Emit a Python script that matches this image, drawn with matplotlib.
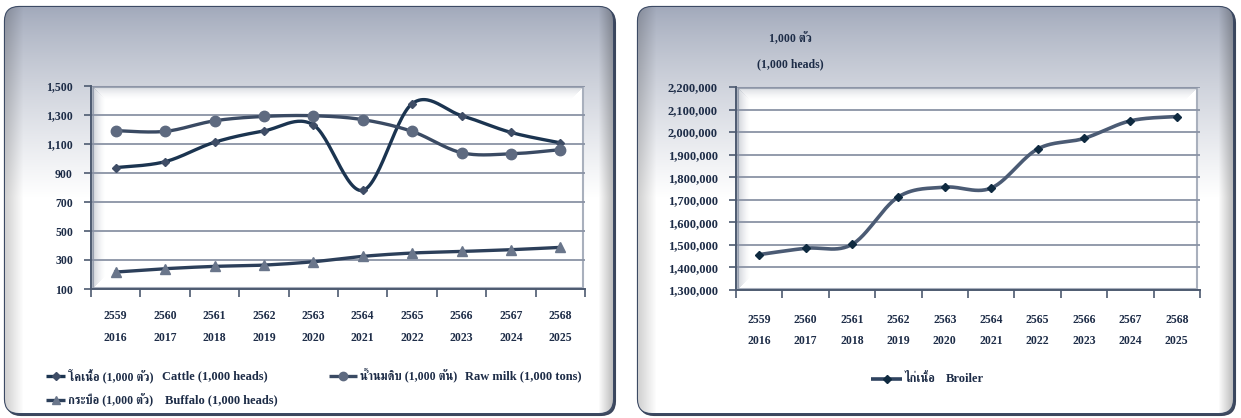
import numpy as np
import matplotlib
matplotlib.use("Agg")
import matplotlib.pyplot as plt
from matplotlib import font_manager, ft2font, transforms
from matplotlib.patches import FancyBboxPatch, Rectangle

# ---------------- data ----------------
years_be = ["2559", "2560", "2561", "2562", "2563", "2564", "2565", "2566", "2567", "2568"]
years_ad = ["2016", "2017", "2018", "2019", "2020", "2021", "2022", "2023", "2024", "2025"]
cattle = [937, 978, 1112, 1190, 1232, 780, 1378, 1296, 1180, 1108]
raw_milk = [1192, 1187, 1260, 1290, 1295, 1268, 1187, 1040, 1032, 1061]
buffalo = [217, 240, 256, 265, 288, 325, 348, 359, 371, 387]
broiler = [1457000, 1485000, 1502000, 1713000, 1756000, 1752000, 1925000, 1972000, 2050000, 2069000]

left_yticks = [100, 300, 500, 700, 900, 1100, 1300, 1500]
right_yticks = [1300000, 1400000, 1500000, 1600000, 1700000, 1800000, 1900000, 2000000, 2100000, 2200000]

th_cattle, en_cattle = "โคเนื้อ (1,000 ตัว)", "Cattle (1,000 heads)"
th_milk, en_milk = "น้ำนมดิบ (1,000 ตัน)", "Raw milk (1,000 tons)"
th_buffalo, en_buffalo = "กระบือ (1,000 ตัว)", "Buffalo (1,000 heads)"
th_broiler, en_broiler = "ไก่เนื้อ", "Broiler"
unit_th = "1,000 ตัว"
unit_en = "(1,000 heads)"

# ---------------- fonts ----------------
thai = None
for f in font_manager.fontManager.ttflist:
    try:
        cm = ft2font.FT2Font(f.fname).get_charmap()
        if 0x0E01 in cm and 0x0E49 in cm and 0x0E4D in cm:
            thai = f.name
            if "Serif" in f.name or "serif" in f.name:
                break
    except Exception:
        pass
FAM = ["Liberation Serif"] + ([thai] if thai else []) + ["DejaVu Sans"]
plt.rcParams["font.family"] = FAM
plt.rcParams["font.weight"] = "bold"

TXT = "#1d2c47"
W, H = 1241, 418
fig = plt.figure(figsize=(W / 100, H / 100), dpi=100)

bg = fig.add_axes([0, 0, 1, 1])
bg.set_xlim(0, W)
bg.set_ylim(H, 0)
bg.axis("off")


def panel(x0, y0, x1, y1):
    sh = FancyBboxPatch((x0 + 2, y0 + 2), x1 - x0, y1 - y0,
                        boxstyle="round,pad=0,rounding_size=14",
                        fc="#4a5568", ec="#3b465c", lw=1.5, zorder=1)
    bg.add_patch(sh)
    p = FancyBboxPatch((x0, y0), x1 - x0, y1 - y0,
                       boxstyle="round,pad=0,rounding_size=14",
                       fc="white", ec="#3c4a64", lw=1.6, zorder=2)
    bg.add_patch(p)
    hh, ww = int(y1 - y0), int(x1 - x0)
    yy = np.linspace(0, 1, hh)[:, None]
    xx = np.linspace(0, 1, ww)[None, :]
    top = np.array([0.63, 0.66, 0.73])
    t = np.clip((yy * (y1 - y0)) / 190.0, 0, 1) ** 0.8
    img = top[None, None, :] * (1 - t[..., None]) + t[..., None]
    img = np.broadcast_to(img, (hh, ww, 3)).copy()
    edge = np.clip(1 - (xx * ww) / 18.0, 0, 1) * 0.18 + np.clip(1 - ((1 - xx) * ww) / 14.0, 0, 1) * 0.25
    img = img * (1 - edge[..., None])
    im = bg.imshow(img, extent=(x0, x1, y1, y0), aspect="auto", zorder=3, interpolation="bilinear")
    im.set_clip_path(p)


def inner(x0, y0, x1, y1):
    bg.add_patch(Rectangle((x0, y0), x1 - x0, y1 - y0, fc="white", ec="#a9b0bd", lw=1.5, zorder=4))
    n = 12
    for i in range(n):
        a = 0.35 * (1 - i / n) ** 1.5
        bg.add_patch(Rectangle((x0 + i, y0 + i), 1, y1 - y0 - 2 * i, fc="#7d8799", ec="none", alpha=a, zorder=5))
        bg.add_patch(Rectangle((x0 + i, y0 + i), x1 - x0 - 2 * i, 1, fc="#7d8799", ec="none", alpha=a * 0.8, zorder=5))


panel(5, 7, 613, 413)
panel(638, 7, 1233, 413)
inner(93, 87, 583, 288)
inner(738, 88, 1197, 289)


def smooth(y, n=30):
    y = np.asarray(y, float)
    x = np.arange(len(y), dtype=float)
    px = np.concatenate([[x[0]], x, [x[-1]]])
    py = np.concatenate([[y[0]], y, [y[-1]]])
    xs, ys = [], []
    t = np.linspace(0, 1, n)
    for i in range(len(y) - 1):
        p0 = np.array([px[i], py[i]]); p1 = np.array([px[i + 1], py[i + 1]])
        p2 = np.array([px[i + 2], py[i + 2]]); p3 = np.array([px[i + 3], py[i + 3]])
        c1 = p1 + (p2 - p0) / 6.0
        c2 = p2 - (p3 - p1) / 6.0
        b = ((1 - t) ** 3)[:, None] * p1 + (3 * (1 - t) ** 2 * t)[:, None] * c1 + \
            (3 * (1 - t) * t ** 2)[:, None] * c2 + (t ** 3)[:, None] * p2
        xs.append(b[:, 0]); ys.append(b[:, 1])
    return np.concatenate(xs), np.concatenate(ys)


def px2fig(x0, y0, x1, y1):
    return [x0 / W, 1 - y1 / H, (x1 - x0) / W, (y1 - y0) / H]


def style_axes(ax, yticks, ylim, ysize, xpad):
    ax.set_facecolor("none")
    ax.set_xlim(-0.5, 9.5)
    ax.set_ylim(*ylim)
    ax.set_yticks(yticks)
    ax.set_yticklabels([f"{v:,}" for v in yticks], fontsize=ysize, color=TXT, fontweight="bold")
    ax.set_xticks(range(10))
    ax.set_xticklabels(years_be, fontsize=8.5, color=TXT, fontweight="bold")
    ax.set_xticks(np.arange(-0.5, 10, 1), minor=True)
    ax.tick_params(axis="x", which="major", length=0, pad=xpad)
    ax.tick_params(axis="x", which="minor", length=6, width=1.2, color="#4d5a70", direction="out")
    ax.tick_params(axis="y", length=5, width=1.2, color="#4d5a70", direction="out", pad=8)
    ax.grid(axis="y", color="#8a93a5", lw=1.3, zorder=0)
    for s in ["top", "right"]:
        ax.spines[s].set_visible(False)
    for s in ["left", "bottom"]:
        ax.spines[s].set_color("#4d5a70")
        ax.spines[s].set_linewidth(1.4)
    return transforms.blended_transform_factory(ax.transData, bg.transData)


x = np.arange(10)
c_cattle, c_milk, c_buf = "#1b3450", "#3a4a63", "#2c3f5a"
m_cattle, m_milk, m_buf = "#3f4d66", "#5e6a80", "#6a768b"

# ---------------- left chart ----------------
axL = fig.add_axes(px2fig(91, 86, 585, 289))
trL = style_axes(axL, left_yticks, (100, 1500), 8.5, 15)
for i, s in enumerate(years_ad):
    axL.text(i, 338, s, transform=trL, ha="center", va="center", fontsize=8.5, color=TXT, fontweight="bold")

sx, sy = smooth(cattle); axL.plot(sx, sy, color=c_cattle, lw=2.4, zorder=5)
axL.plot(x, cattle, ls="none", marker="D", ms=4.5, color=m_cattle, zorder=6)
sx, sy = smooth(raw_milk); axL.plot(sx, sy, color=c_milk, lw=2.4, zorder=5)
axL.plot(x, raw_milk, ls="none", marker="o", ms=7.5, color=m_milk, zorder=6)
sx, sy = smooth(buffalo); axL.plot(sx, sy, color=c_buf, lw=2.4, zorder=5)
axL.plot(x, buffalo, ls="none", marker="^", ms=7, color=m_buf, zorder=6)

# ---------------- right chart ----------------
axR = fig.add_axes(px2fig(736, 87, 1200, 290))
trR = style_axes(axR, right_yticks, (1300000, 2200000), 9, 17)
for i, s in enumerate(years_ad):
    axR.text(i, 341, s, transform=trR, ha="center", va="center", fontsize=8.5, color=TXT, fontweight="bold")
c_br, m_br = "#4b5b74", "#0f2a40"
sx, sy = smooth(broiler); axR.plot(sx, sy, color=c_br, lw=2.6, zorder=5)
axR.plot(x, broiler, ls="none", marker="D", ms=4.5, color=m_br, zorder=6)

bg.text(790, 39, unit_th, ha="center", va="center", fontsize=8.5, color=TXT, fontweight="bold", zorder=10)
bg.text(790, 64, unit_en, ha="center", va="center", fontsize=8.5, color=TXT, fontweight="bold", zorder=10)

# ---------------- legends (drawn manually) ----------------
fig.canvas.draw()
renderer = fig.canvas.get_renderer()
inv = bg.transData.inverted()


def legend_entry(hx0, hx1, y, lc, mk, ms, mc, th, en, en_x, lw=2.4):
    bg.plot([hx0, hx1], [y, y], color=lc, lw=lw, zorder=10, solid_capstyle="butt")
    bg.plot([(hx0 + hx1) / 2], [y], ls="none", marker=mk, ms=ms, color=mc, zorder=11)
    t = bg.text(hx1 + 3, y, th, ha="left", va="center", fontsize=8.5, color=TXT,
                fontweight="bold", zorder=10)
    bb = t.get_window_extent(renderer)
    x_end = inv.transform((bb.x1, bb.y0))[0]
    bg.text(max(en_x, x_end + 8), y, en, ha="left", va="center", fontsize=9, color=TXT,
            fontweight="bold", zorder=10)


legend_entry(46, 65, 376, c_cattle, "D", 4, m_cattle, th_cattle, en_cattle, 158)
legend_entry(329, 357, 376, c_milk, "o", 6, m_milk, th_milk, en_milk, 450)
legend_entry(46, 65, 400, c_buf, "^", 5.5, m_buf, th_buffalo, en_buffalo, 165)
legend_entry(871, 902, 379, "#2f4360", "D", 4.5, m_br, th_broiler, en_broiler, 946, lw=2.6)

fig.savefig("out.png", dpi=100)
